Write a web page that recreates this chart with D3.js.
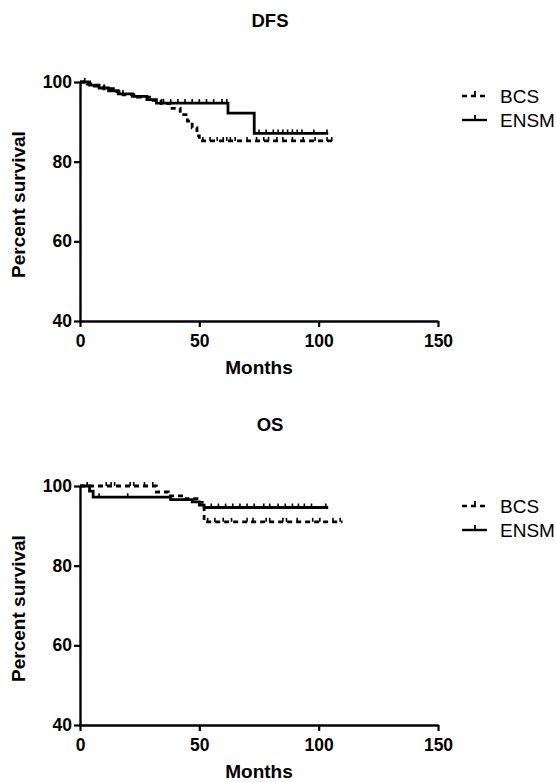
<!DOCTYPE html>
<html>
<head>
<meta charset="utf-8">
<script src="https://cdn.jsdelivr.net/npm/d3@7"></script>
<style>
  body { margin: 0; background: #fff; }
  text { font-family: "Liberation Sans", Arial, sans-serif; }
</style>
</head>
<body>
<div id="chart"></div>
<script>
// step curves: [month, percent survival]
const dfsBcs = [[0,100],[3,99.5],[6,99],[10,98.3],[14,97.6],[18,96.8],[24,96.2],[30,95.4],[34,94.6],[38,93.4],[42,91.8],[45,90.2],[47,88.5],[49,86.5],[50,85.2]];
const dfsEnsm = [[0,100],[4,99.2],[8,98.5],[12,97.8],[16,97.0],[22,96.4],[28,95.6],[32,94.7],[62,92.2],[73,87.1]];
const osBcs = [[0,100],[32,98.5],[37,97.5],[44,96.8],[49,95.9],[52,91.0]];
const osEnsm = [[0,100],[4,98.7],[5.5,97.2],[38,96.6],[47,96.0],[50,95.2],[52,94.6]];

// last follow-up month
const dfsBcsEnd = 107, dfsEnsmEnd = 104, osBcsEnd = 110, osEnsmEnd = 104;

// censored times
const dfsBcsCensor = [51.5,54.5,57.5,60,61.5,63,65,70,74,77,79,82.5,85,89,93.5,98.5,103.5,105.5];
const dfsEnsmCensor = [2,18,35,38,41,44,47,50,53,56,59.5,61.5,75,78,81,83,85,87,89,91,93,98,103.5];
const osBcsCensor = [3,11,13,14.5,21,22.5,27,30.5,53.5,56.5,60,63.5,70,72.5,78,79.5,85,86.5,91,97.5,100.5,106,109];
const osEnsmCensor = [8,20,55,58,61,64,67,70,73,77,79.5,83,86,89,91.5,94,97,103];

const xTicks = [0, 50, 100, 150];
const yTicks = [40, 60, 80, 100];
const groups = ["BCS", "ENSM"];

const width = 556, height = 782;
const svg = d3.select("#chart").append("svg")
  .attr("width", width).attr("height", height);

const x = d3.scaleLinear().domain([0, 150]).range([80, 438]);

function survAt(steps, t) {
  let v = steps[0][1];
  for (const s of steps) if (s[0] <= t) v = s[1];
  return v;
}

function panel(title, top, bottom, legendY, series) {
  const y = d3.scaleLinear().domain([40, 100]).range([bottom, top]);
  const g = svg.append("g");

  g.append("text").attr("x", 270).attr("y", top - 55)
    .attr("text-anchor", "middle").style("font-weight", "bold").style("font-size", "18.5px")
    .text(title);

  const xAxis = g.append("g").attr("transform", `translate(0,${bottom})`)
    .call(d3.axisBottom(x).tickValues(xTicks).tickSize(6).tickPadding(8).tickSizeOuter(0));
  const yAxis = g.append("g").attr("transform", "translate(80,0)")
    .call(d3.axisLeft(y).tickValues(yTicks).tickSize(6).tickPadding(2).tickSizeOuter(0));
  [xAxis, yAxis].forEach(a => {
    a.select(".domain").attr("stroke", "#000").attr("stroke-width", 2.4);
    a.selectAll(".tick line").attr("stroke", "#000").attr("stroke-width", 2.2);
    a.selectAll(".tick text").attr("fill", "#000")
      .style("font-family", "'Liberation Sans', Arial, sans-serif")
      .style("font-size", "17.5px").style("font-weight", "bold");
  });

  g.append("text").attr("x", 259).attr("y", bottom + 53)
    .attr("text-anchor", "middle").style("font-weight", "bold").style("font-size", "19px")
    .text("Months");
  g.append("text")
    .attr("transform", `translate(25,${(top + bottom) / 2 + 3}) rotate(-90)`)
    .attr("text-anchor", "middle").style("font-weight", "bold").style("font-size", "19px")
    .text("Percent survival");

  const line = d3.line().x(d => x(d[0])).y(d => y(d[1])).curve(d3.curveStepAfter);

  series.forEach((s, i) => {
    const pts = s.steps.concat([[s.end, s.steps[s.steps.length - 1][1]]]);
    g.append("path").datum(pts)
      .attr("fill", "none").attr("stroke", "#000").attr("stroke-width", 2.8)
      .attr("stroke-dasharray", s.dash)
      .attr("d", line);
    g.selectAll(null).data(s.censor).enter().append("line")
      .attr("x1", d => x(d)).attr("x2", d => x(d))
      .attr("y1", d => y(survAt(s.steps, d)))
      .attr("y2", d => y(survAt(s.steps, d)) - 4)
      .attr("stroke", "#000").attr("stroke-width", 1.6);

    // legend
    const ly = legendY + i * 24;
    g.append("line").attr("x1", 462).attr("x2", 487).attr("y1", ly).attr("y2", ly)
      .attr("stroke", "#000").attr("stroke-width", 2.4).attr("stroke-dasharray", s.dash);
    g.append("line").attr("x1", 475).attr("x2", 475).attr("y1", ly).attr("y2", ly - 5)
      .attr("stroke", "#000").attr("stroke-width", 1.8);
    g.append("text").attr("x", 500).attr("y", ly + 7)
      .style("font-size", "19px").text(groups[i]);
  });
}

panel("DFS", 82, 321, 96, [
  {steps: dfsBcs, end: dfsBcsEnd, censor: dfsBcsCensor, dash: "5,4"},
  {steps: dfsEnsm, end: dfsEnsmEnd, censor: dfsEnsmCensor, dash: null}
]);
panel("OS", 486, 725, 506, [
  {steps: osBcs, end: osBcsEnd, censor: osBcsCensor, dash: "5,4"},
  {steps: osEnsm, end: osEnsmEnd, censor: osEnsmCensor, dash: null}
]);
</script>
</body>
</html>
